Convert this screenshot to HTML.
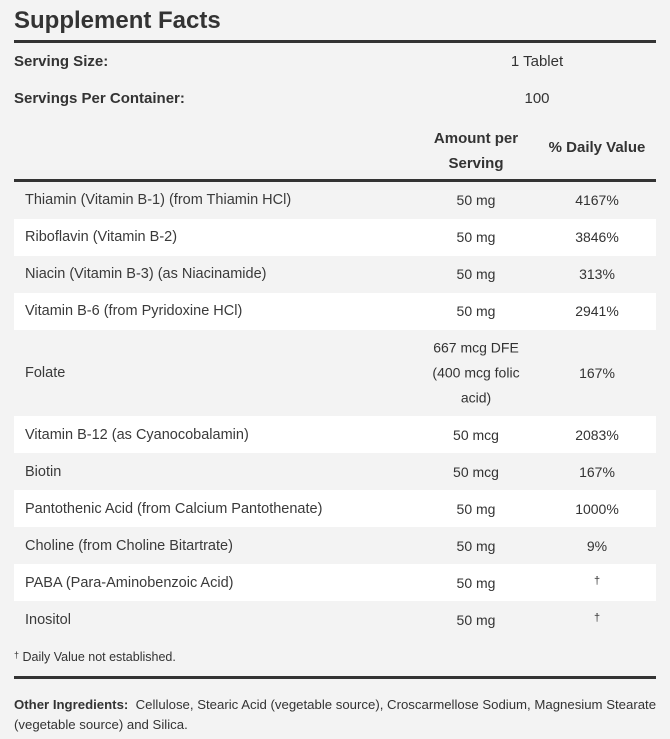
<!DOCTYPE html>
<html><head><meta charset="utf-8"><style>
body{margin:0;width:670px;height:739px;background:#f3f3f3;font-family:"Liberation Sans",sans-serif;color:#333;position:relative;overflow:hidden}
.a{position:absolute;white-space:nowrap}
.r{position:absolute;left:14px;width:642px;background:#fff}
.n{position:absolute;left:25px;font-size:14.5px;color:#3a3a3a;transform:translateY(-50%)}
.m{position:absolute;left:416px;width:120px;text-align:center;font-size:14px;transform:translateY(-50%)}
.d{position:absolute;left:547px;width:100px;text-align:center;font-size:14px;transform:translateY(-50%)}
.rule{position:absolute;left:14px;width:642px;height:3px;background:#333}
</style></head><body>
<div class="a" style="left:14px;top:7px;font-size:24px;font-weight:bold">Supplement Facts</div>
<div class="rule" style="top:40px"></div>
<div class="a" style="left:14px;top:53px;font-size:15px;font-weight:bold">Serving Size:</div>
<div class="a" style="left:487px;width:100px;text-align:center;top:53px;font-size:15px">1 Tablet</div>
<div class="a" style="left:14px;top:90px;font-size:15px;font-weight:bold">Servings Per Container:</div>
<div class="a" style="left:487px;width:100px;text-align:center;top:90px;font-size:15px">100</div>
<div class="a" style="left:416px;width:120px;text-align:center;top:126px;font-size:15px;font-weight:bold;line-height:25px;white-space:normal">Amount per<br>Serving</div>
<div class="a" style="left:537px;width:120px;text-align:center;top:139px;font-size:15px;font-weight:bold">% Daily Value</div>
<div class="rule" style="top:179px"></div>
<div class="r" style="top:219px;height:37px"></div>
<div class="r" style="top:293px;height:37px"></div>
<div class="r" style="top:416px;height:37px"></div>
<div class="r" style="top:490px;height:37px"></div>
<div class="r" style="top:564px;height:37px"></div>

<div class="n" style="top:200px">Thiamin (Vitamin B-1) (from Thiamin HCl)</div><div class="m" style="top:200px">50 mg</div><div class="d" style="top:200px">4167%</div>
<div class="n" style="top:237px">Riboflavin (Vitamin B-2)</div><div class="m" style="top:237px">50 mg</div><div class="d" style="top:237px">3846%</div>
<div class="n" style="top:274px">Niacin (Vitamin B-3) (as Niacinamide)</div><div class="m" style="top:274px">50 mg</div><div class="d" style="top:274px">313%</div>
<div class="n" style="top:311px">Vitamin B-6 (from Pyridoxine HCl)</div><div class="m" style="top:311px">50 mg</div><div class="d" style="top:311px">2941%</div>
<div class="n" style="top:373px">Folate</div><div class="m" style="top:373px;line-height:25px;white-space:normal">667 mcg DFE<br>(400 mcg folic<br>acid)</div><div class="d" style="top:373px">167%</div>
<div class="n" style="top:435px">Vitamin B-12 (as Cyanocobalamin)</div><div class="m" style="top:435px">50 mcg</div><div class="d" style="top:435px">2083%</div>
<div class="n" style="top:472px">Biotin</div><div class="m" style="top:472px">50 mcg</div><div class="d" style="top:472px">167%</div>
<div class="n" style="top:509px">Pantothenic Acid (from Calcium Pantothenate)</div><div class="m" style="top:509px">50 mg</div><div class="d" style="top:509px">1000%</div>
<div class="n" style="top:546px">Choline (from Choline Bitartrate)</div><div class="m" style="top:546px">50 mg</div><div class="d" style="top:546px">9%</div>
<div class="n" style="top:583px">PABA (Para-Aminobenzoic Acid)</div><div class="m" style="top:583px">50 mg</div><div class="d" style="top:581px;font-size:11px">†</div>
<div class="n" style="top:620px">Inositol</div><div class="m" style="top:620px">50 mg</div><div class="d" style="top:618px;font-size:11px">†</div>

<div class="a" style="left:14px;top:650px;font-size:12.5px"><span style="font-size:9px;vertical-align:top">†</span> Daily Value not established.</div>
<div class="rule" style="top:676px"></div>
<div class="a" style="left:14px;top:695px;font-size:13.2px;line-height:20px;width:650px;white-space:normal"><b>Other Ingredients:</b>&nbsp; Cellulose, Stearic Acid (vegetable source), Croscarmellose Sodium, Magnesium Stearate (vegetable source) and Silica.</div>
</body></html>
